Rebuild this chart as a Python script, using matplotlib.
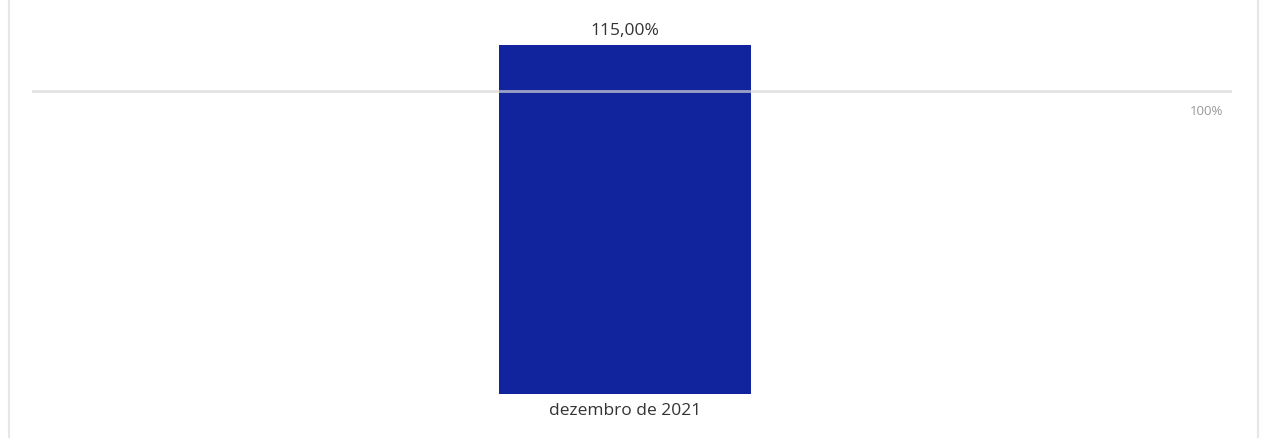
import matplotlib
matplotlib.use("Agg")
import matplotlib.pyplot as plt
from matplotlib.lines import Line2D

categories = ["dezembro de 2021"]
values = [115.0]
value_labels = ["115,00%"]
target = 100
target_label = "100%"

W, H = 1261, 439
fig = plt.figure(figsize=(W / 100, H / 100), dpi=100)
fig.patch.set_facecolor("white")

# axes placement in pixels
ax_left, ax_right = 32, 1232
ax_bottom_px, ax_top_px = 395, 20
ax = fig.add_axes([ax_left / W, 1 - ax_bottom_px / H,
                   (ax_right - ax_left) / W, (ax_bottom_px - ax_top_px) / H])

bar_w = 0.8
x = list(range(len(categories)))
ax.bar(x, values, width=bar_w, color="#12239E", zorder=2)
ax.set_xlim(-1.882, 1.928)
ax.set_ylim(0, 115 * (ax_bottom_px - ax_top_px) / (395 - 46))

ax.axhline(target, color="#d8d8d8", lw=2, alpha=0.7, zorder=3)
ax.text(1.900, target - 4.5, target_label, ha="right", va="top",
        fontsize=9.5, color="#999999", family="Open Sans")

for xi, v, lab in zip(x, values, value_labels):
    ax.text(xi, v + 2.3, lab, ha="center", va="bottom", fontsize=12.5,
            color="#333333", family="Open Sans")

ax.set_xticks(x)
ax.set_xticklabels(categories, fontsize=12.5, color="#333333", family="Open Sans")
ax.tick_params(axis="x", length=0, pad=6)
ax.set_yticks([])
for s in ax.spines.values():
    s.set_visible(False)

# frame borders
for xp in (8.5, 1257.5):
    fig.add_artist(Line2D([xp / W, xp / W], [0, 1], color="#e6e6e6", lw=1.5,
                          transform=fig.transFigure))

fig.savefig("out.png", dpi=100)
